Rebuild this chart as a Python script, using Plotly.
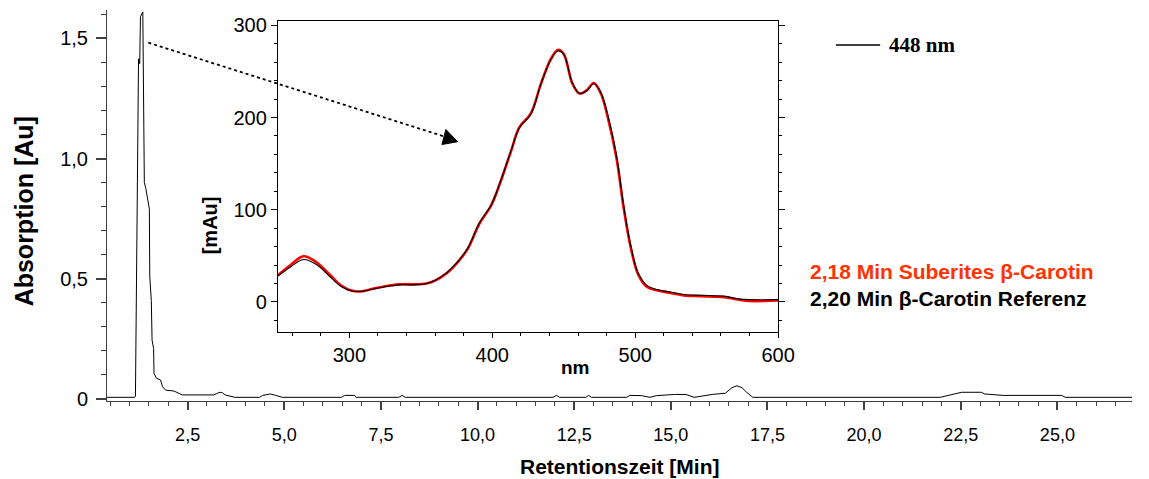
import plotly.graph_objects as go

# ---------------- data ----------------
# chromatogram (448 nm)
ret_time = [0.41, 1.13, 1.15, 1.23, 1.26, 1.28, 1.34, 1.38, 1.42, 1.51,
            1.52, 1.56, 1.58, 1.62, 1.63, 1.69, 1.80, 1.85, 1.93, 2.15,
            2.36, 3.17, 3.27, 3.34, 3.40, 3.47, 3.72, 4.36, 4.44, 4.64,
            4.78, 4.95, 6.48, 6.56, 6.82, 6.86, 7.96, 8.05, 8.13, 11.95,
            12.04, 12.12, 12.80, 12.87, 12.95, 13.86, 13.94, 14.24, 14.46, 14.63,
            15.10, 15.39, 15.60, 15.82, 16.07, 16.41, 16.58, 16.71, 16.84, 16.96,
            17.12, 21.97, 22.27, 22.52, 23.03, 23.12, 23.59, 25.11, 25.20, 26.93]
absorption = [0.007, 0.007, 0.012, 1.415, 1.395, 1.590, 1.610, 0.900, 0.875, 0.790,
              0.510, 0.410, 0.245, 0.210, 0.107, 0.087, 0.079, 0.051, 0.037, 0.033,
              0.017, 0.017, 0.024, 0.028, 0.026, 0.017, 0.007, 0.007, 0.015, 0.021,
              0.015, 0.007, 0.007, 0.015, 0.015, 0.007, 0.007, 0.015, 0.007, 0.007,
              0.015, 0.007, 0.007, 0.015, 0.007, 0.007, 0.015, 0.014, 0.007, 0.014,
              0.019, 0.019, 0.007, 0.014, 0.019, 0.024, 0.047, 0.055, 0.047, 0.028,
              0.007, 0.007, 0.019, 0.028, 0.028, 0.021, 0.015, 0.015, 0.007, 0.007]

# UV/Vis spectra (inset)
wavelength = [250, 258, 268, 277, 286, 294, 302, 309, 317, 327,
              335, 345, 354, 360, 368, 376, 383, 391, 399, 405,
              413, 419, 427, 434, 441, 446, 450, 456, 461, 466,
              471, 476, 481, 487, 492, 497, 502, 508, 515, 524,
              534, 546, 562, 572, 580, 600]
spec_reference = [28, 37, 46, 40.5, 28, 17, 11.6, 11.6, 14, 17,
                  18.5, 18.5, 20, 23.5, 31.5, 44, 58.6, 85.8, 104.6, 127.4,
                  163.6, 188.9, 203.4, 236, 263, 272.2, 268.5, 237.8, 226.2, 228.7,
                  236.7, 227, 201.6, 158.2, 103.9, 60.4, 31.5, 18.1, 13.4, 10.9,
                  8, 7.2, 6.2, 3.3, 2.5, 2.5]
spec_sample = [29, 39, 49.5, 43, 30, 18, 12, 11.5, 14.5, 17.5,
               19, 19, 20, 23, 31, 43.5, 58, 85, 104, 127,
               163, 189.5, 204.5, 236.5, 263.5, 273.5, 269, 237, 226, 229.5,
               237.5, 226, 199, 155, 101, 58, 30, 16.5, 12.5, 10,
               7, 6.2, 5.2, 2.5, 1.0, 1.5]

main_x_ticks = [2.5, 5.0, 7.5, 10.0, 12.5, 15.0, 17.5, 20.0, 22.5, 25.0]
main_x_labels = ["2,5", "5,0", "7,5", "10,0", "12,5", "15,0", "17,5", "20,0", "22,5", "25,0"]
main_y_ticks = [0, 0.5, 1.0, 1.5]
main_y_labels = ["0", "0,5", "1,0", "1,5"]
inset_x_ticks = [300, 400, 500, 600]
inset_x_labels = ["300", "400", "500", "600"]
inset_y_ticks = [0, 100, 200, 300]
inset_y_labels = ["0", "100", "200", "300"]

# ---------------- layout helpers ----------------
W, H = 1149, 479
L, R, T, B = 107, 0, 10, 78
PW, PH = W - L - R, H - T - B


def px(xp):
    return (xp - L) / PW


def py(yp):
    return (H - B - yp) / PH


FONT = "Liberation Sans, Arial, sans-serif"
AX = "#404040"

fig = go.Figure()

fig.add_trace(go.Scatter(x=ret_time, y=absorption, mode="lines",
                         line=dict(color="black", width=1), xaxis="x", yaxis="y",
                         showlegend=False, hoverinfo="skip"))

fig.add_trace(go.Scatter(x=wavelength, y=spec_sample, mode="lines",
                         line=dict(color="#FF0000", width=2.6, shape="spline"),
                         xaxis="x2", yaxis="y2", showlegend=False))
fig.add_trace(go.Scatter(x=wavelength, y=spec_reference, mode="lines",
                         line=dict(color="black", width=1.1, shape="spline"),
                         xaxis="x2", yaxis="y2", showlegend=False))

inset_x0, inset_x1 = px(280.7), px(789.3)
inset_y0, inset_y1 = py(332.3), py(21)

fig.update_layout(
    width=W, height=H,
    margin=dict(l=L, r=R, t=T, b=B),
    paper_bgcolor="white", plot_bgcolor="white",
    font=dict(family=FONT, size=18, color="black"),
    xaxis=dict(domain=[0, 1], range=[0.414, 26.93], showgrid=False, zeroline=False,
               showline=True, linecolor=AX, linewidth=1,
               ticks="outside", ticklen=8, tickcolor=AX, tickwidth=1.5,
               tickvals=main_x_ticks, ticktext=main_x_labels,
               tickfont=dict(size=18), ticklabelstandoff=9,
               minor=dict(ticks="outside", ticklen=4, dtick=0.5, tick0=0,
                          tickcolor=AX, tickwidth=1)),
    yaxis=dict(domain=[0, 1], range=[-0.0083, 1.618], showgrid=False, zeroline=False,
               showline=True, linecolor=AX, linewidth=1,
               ticks="outside", ticklen=10, tickcolor=AX, tickwidth=1.5,
               tickvals=main_y_ticks, ticktext=main_y_labels,
               tickfont=dict(size=20), ticklabelstandoff=4,
               minor=dict(ticks="outside", ticklen=5, dtick=0.1, tick0=0,
                          tickcolor=AX, tickwidth=1)),
    xaxis2=dict(domain=[inset_x0, inset_x1], anchor="y2", range=[250, 600],
                showgrid=False, zeroline=False, showline=True, linecolor="black",
                linewidth=1, mirror=True, ticks="outside", ticklen=5,
                tickcolor="black", tickvals=inset_x_ticks, ticktext=inset_x_labels,
                tickfont=dict(size=20),
                minor=dict(ticks="outside", ticklen=3, dtick=20, tick0=0, tickcolor="black")),
    yaxis2=dict(domain=[inset_y0, inset_y1], anchor="x2", range=[-33, 304.7],
                showgrid=False, zeroline=False, showline=True, linecolor="black",
                linewidth=1, mirror="ticks", ticks="outside", ticklen=6,
                tickcolor="black", tickvals=inset_y_ticks, ticktext=inset_y_labels,
                tickfont=dict(size=20),
                minor=dict(ticks="outside", ticklen=3, dtick=20, tick0=0, tickcolor="black")),
)

annotations = [
    dict(text="<b>Absorption [Au]</b>", x=px(23), y=py(211), textangle=-90,
         font=dict(size=25)),
    dict(text="<b>Retentionszeit [Min]</b>", x=px(629), y=py(466), font=dict(size=21)),
    dict(text="<b>[mAu]</b>", x=px(212), y=py(225), textangle=-90, font=dict(size=20)),
    dict(text="<b>nm</b>", x=px(583), y=py(367), font=dict(size=19)),
    dict(text="<b>448 nm</b>", x=px(901), y=py(45), xanchor="left",
         font=dict(family="Liberation Serif, Times New Roman, serif", size=21)),
    dict(text="<b>2,18 Min Suberites \u03b2-Carotin</b>", x=px(821), y=py(271),
         xanchor="left", font=dict(size=21, color="#FF3300")),
    dict(text="<b>2,20 Min \u03b2-Carotin Referenz</b>", x=px(821), y=py(298),
         xanchor="left", font=dict(size=21, color="black")),
]
for a in annotations:
    a.update(xref="paper", yref="paper", showarrow=False, borderpad=0)
    a.setdefault("xanchor", "center")
    a["yanchor"] = "middle"
fig.update_layout(annotations=annotations)

shapes = [
    # legend line for 448 nm
    dict(type="line", xref="paper", yref="paper", x0=px(848), x1=px(893),
         y0=py(45), y1=py(45), line=dict(color="black", width=1.5)),
    # dotted arrow
    dict(type="line", xref="paper", yref="paper", x0=px(149), y0=py(42.7),
         x1=px(450), y1=py(136.5), line=dict(color="black", width=1.8, dash="dot")),
    dict(type="path", xref="paper", yref="paper",
         path=f"M {px(463.5)} {py(141.7)} L {px(451.5)} {py(129.5)} L {px(447.5)} {py(144.5)} Z",
         fillcolor="black", line=dict(color="black", width=1)),
]
fig.update_layout(shapes=shapes)

fig.write_html("out.html")
